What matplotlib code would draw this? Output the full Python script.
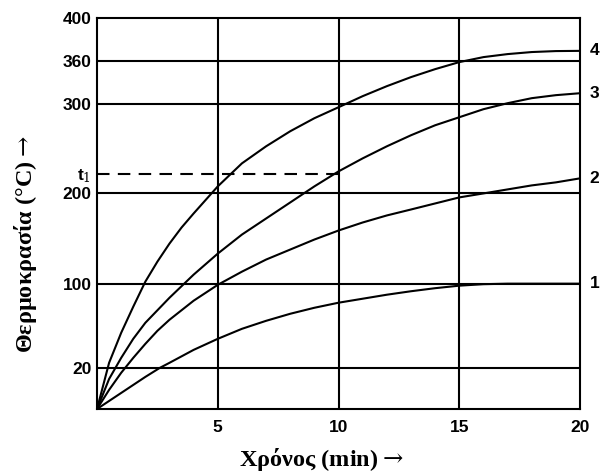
import numpy as np
import matplotlib
matplotlib.use('Agg')
import matplotlib.pyplot as plt

plt.rcParams['mathtext.fontset'] = 'dejavuserif'

# schematic y axis: grid values are not evenly spaced on the page
scale_vals = [0, 20, 100, 200, 300, 360, 400]
scale_pos = [0, 41, 125, 215, 304, 347, 390]

y_ticks = [20, 100, 200, 222, 300, 360, 400]
y_labels = ['20', '100', '200', 't$_1$', '300', '360', '400']
grid_y = [20, 100, 200, 300, 360]
grid_x = [5, 10, 15]
x_ticks = [5, 10, 15, 20]
t1 = 222

# curves (time in min, temperature in °C)
t_c4 = [0, 0.5, 1, 1.5, 2, 2.5, 3, 3.5, 4, 5, 6, 7, 8, 9, 10, 11, 12,
        13, 14, 15, 16, 17, 18, 19, 20]
T_c4 = [0, 24.8, 53.3, 78.1, 102.2, 124.4, 144.4, 162.2, 177.8, 207.9,
        233.7, 252.8, 269.7, 284.3, 296.6, 311.2, 325.1, 337.7, 348.8,
        358.6, 363.7, 366.5, 368.4, 369.3, 369.5]

t_c3 = [0, 0.5, 1, 1.5, 2, 3, 4, 5, 6, 7, 8, 9, 10, 11, 12, 13, 14, 15,
        16, 17, 18, 19, 20]
T_c3 = [0, 14.6, 29.5, 47.6, 62.8, 86.6, 110, 133.3, 154.4, 172.2, 190,
        207.9, 224.7, 239.3, 252.8, 265.2, 276.4, 285.4, 294.4, 301.4,
        308.4, 312.6, 315.3]

t_c2 = [0, 0.5, 1, 1.5, 2, 2.5, 3, 4, 5, 6, 7, 8, 9, 10, 11, 12, 13, 14,
        15, 16, 17, 18, 19, 20]
T_c2 = [0, 9.3, 17.6, 29.5, 42.8, 55.2, 65.7, 83.8, 98.9, 113.3, 126.7,
        137.8, 148.9, 158.9, 167.8, 175.6, 182.2, 188.9, 195.6, 200, 204.5,
        209, 212.4, 216.9]

t_c1 = [0, 1, 2, 2.6, 3, 4, 5, 6, 7, 8, 9, 10, 11, 12, 13, 14, 15, 16, 17,
        18, 20]
T_c1 = [0, 7.8, 15.6, 20, 24.8, 37.1, 47.6, 57.1, 64.7, 71.4, 77.1, 81.9,
        85.7, 89.5, 92.8, 95.7, 98.1, 99.5, 100, 100, 100]

curves = [(t_c1, T_c1, '1'), (t_c2, T_c2, '2'), (t_c3, T_c3, '3'), (t_c4, T_c4, '4')]


def fwd(v):
    return np.interp(v, scale_vals, scale_pos)


def inv(p):
    return np.interp(p, scale_pos, scale_vals)


fig = plt.figure(figsize=(6, 4.76), dpi=100)
ax = fig.add_axes([0.1617, 0.1408, 0.805, 0.8214])
ax.set_yscale('function', functions=(fwd, inv))
ax.set_xlim(0, 20)
ax.set_ylim(0, 400)

lw = 1.5
for g in grid_y:
    ax.axhline(g, color='black', lw=lw)
for g in grid_x:
    ax.axvline(g, color='black', lw=lw)
ax.plot([0, 10], [t1, t1], color='black', lw=lw, dashes=(6, 4))

for t, T, lab in curves:
    ax.plot(t, T, color='black', lw=lw, solid_joinstyle='round')
    ax.text(20.4, T[-1], lab, fontsize=12.5, fontweight='bold',
            family='Liberation Sans', va='center', ha='left', clip_on=False)

for s in ax.spines.values():
    s.set_linewidth(lw)

ax.set_xticks(x_ticks)
ax.set_xticklabels([str(v) for v in x_ticks])
ax.set_yticks(y_ticks)
ax.set_yticklabels(y_labels)
ax.tick_params(length=0, labelsize=12.5)
ax.tick_params(axis='y', pad=4)
ax.tick_params(axis='x', pad=8)
for lbl in ax.get_xticklabels() + ax.get_yticklabels():
    lbl.set_fontweight('bold')
    lbl.set_family('Liberation Sans')

ax.set_xlabel('Χρόνος (min)$\\rightarrow$', fontsize=17.5, fontweight='bold',
              family='Liberation Serif')
ax.set_ylabel('Θερμοκρασία (°C)$\\rightarrow$', fontsize=17.5, fontweight='bold',
              family='Liberation Serif')
ax.xaxis.set_label_coords(0.464, -0.095)
ax.yaxis.set_label_coords(-0.12, 0.421)

fig.savefig('out.png', dpi=100)
